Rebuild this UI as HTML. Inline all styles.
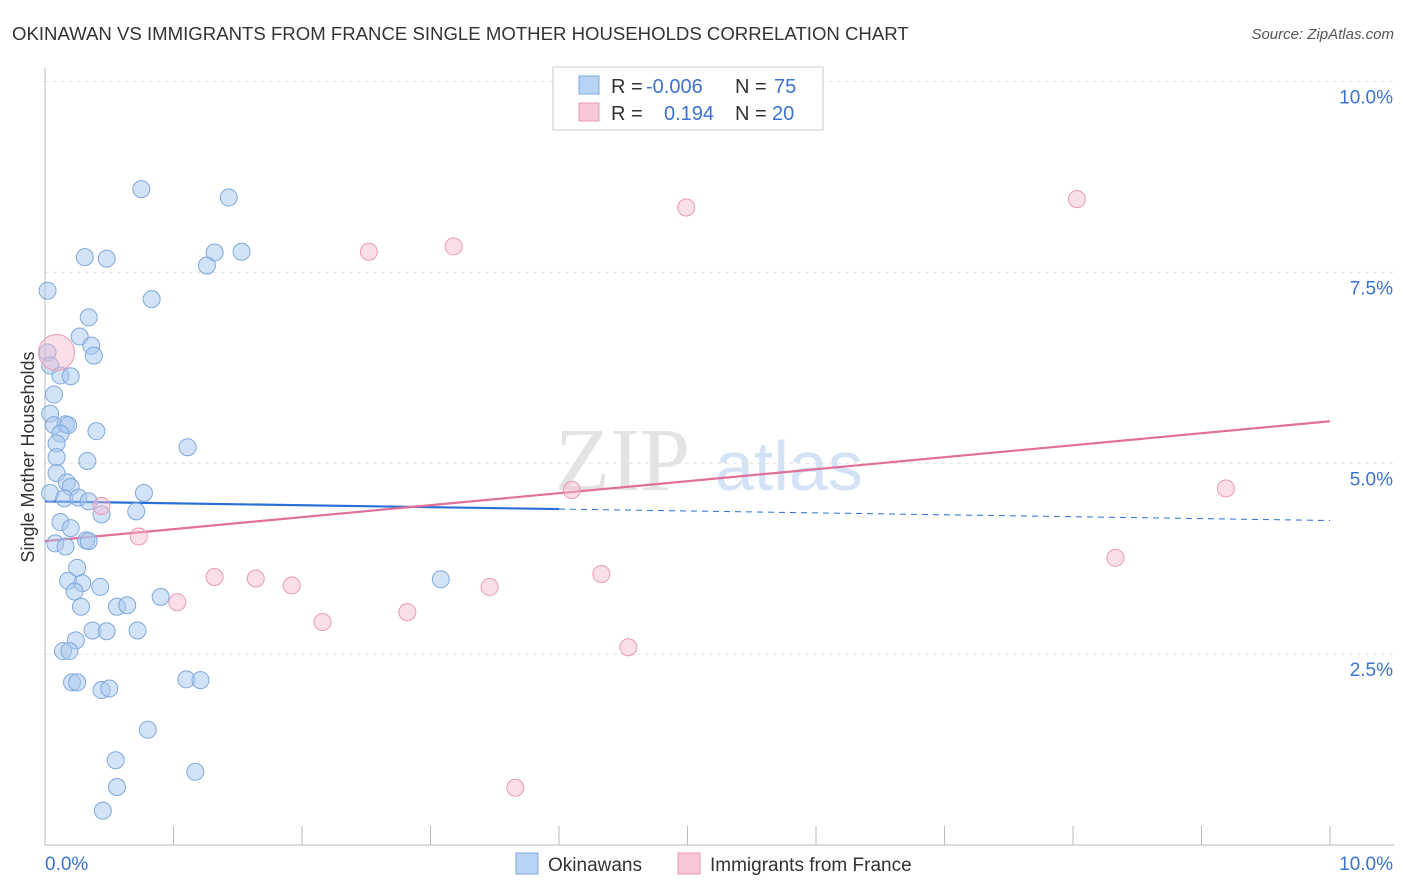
<!DOCTYPE html>
<html><head><meta charset="utf-8"><style>
body{margin:0;background:#fff;font-family:"Liberation Sans",sans-serif}
svg{display:block}
</style></head><body>
<svg id="chart" width="1406" height="892" xmlns="http://www.w3.org/2000/svg">
<text x="12" y="40" font-size="18.6" fill="#333">OKINAWAN VS IMMIGRANTS FROM FRANCE SINGLE MOTHER HOUSEHOLDS CORRELATION CHART</text>
<text x="1394" y="39" font-size="15" fill="#555" font-style="italic" text-anchor="end">Source: ZipAtlas.com</text>
<text x="34" y="457" font-size="18" fill="#333" text-anchor="middle" transform="rotate(-90 34 457)">Single Mother Households</text>
<g><text x="555" y="490" font-size="90" fill="#ddd" font-family="Liberation Serif,serif" opacity="0.8">ZIP</text><text x="715" y="490" font-size="70" fill="#c9dcf2" opacity="0.8">atlas</text></g>
<g id="grid"></g><g id="axes"></g><g id="trend"></g><g id="pts"></g>
<g>
<rect x="553" y="67" width="270" height="63" fill="#fff" stroke="#ccc"/>
<rect x="579" y="76" width="20" height="18" fill="#b9d3f5" stroke="#7fa8dc"/>
<rect x="579" y="103" width="20" height="18" fill="#f9c6d5" stroke="#eb9ab4"/>
<text y="93" font-size="20" fill="#333"><tspan x="611">R =</tspan><tspan x="646" fill="#3a73d0">-0.006</tspan><tspan x="735">N =</tspan><tspan x="774" fill="#3a73d0">75</tspan></text>
<text y="120" font-size="20" fill="#333"><tspan x="611">R =</tspan><tspan x="664" fill="#3a73d0">0.194</tspan><tspan x="735">N =</tspan><tspan x="772" fill="#3a73d0">20</tspan></text>
</g>
<g>
<rect x="516" y="853" width="22" height="21" fill="#b9d3f5" stroke="#7fa8dc"/>
<text x="548" y="871" font-size="19" fill="#333">Okinawans</text>
<rect x="678" y="853" width="22" height="21" fill="#f9c6d5" stroke="#eb9ab4"/>
<text x="710" y="871" font-size="19" fill="#333">Immigrants from France</text>
</g>
</svg>
<script>
const blueX=[.75,1.43,.31,.48,1.32,1.53,1.26,.02,.83,.34,.27,.36,.38,.02,.04,.12,.2,.07,.04,.07,.16,.18,.12,.4,.09,1.11,.09,.33,.09,.17,.2,.04,.15,.26,.34,.77,.44,.71,.12,.2,.32,.34,.08,.16,.25,.18,.29,.43,.23,.9,.28,.56,.64,.37,.48,.72,.24,.14,.19,.21,.25,.44,.5,1.1,1.21,.8,.55,1.17,.56,.45,3.08];
const blueY=[8.59,8.48,7.70,7.68,7.76,7.77,7.59,7.26,7.15,6.91,6.66,6.54,6.41,6.45,6.28,6.15,6.14,5.90,5.65,5.50,5.51,5.50,5.39,5.42,5.26,5.21,5.08,5.03,4.87,4.75,4.69,4.61,4.54,4.55,4.50,4.61,4.33,4.37,4.23,4.15,3.99,3.98,3.95,3.91,3.63,3.46,3.43,3.38,3.32,3.25,3.12,3.12,3.14,2.81,2.80,2.81,2.68,2.54,2.54,2.13,2.13,2.03,2.05,2.17,2.16,1.51,1.11,.96,.76,.45,3.48];
const pinkX=[.09,4.99,8.03,2.52,3.18,4.10,9.19,.44,.73,1.32,1.64,1.92,1.03,2.16,2.82,3.46,4.33,4.54,3.66,8.33];
const pinkY=[6.45,8.35,8.46,7.77,7.84,4.65,4.67,4.44,4.04,3.51,3.49,3.40,3.18,2.92,3.05,3.38,3.55,2.59,.75,3.76];
const yTicks=[2.5,5.0,7.5,10.0];
const yTickLabels=["2.5%","5.0%","7.5%","10.0%"];
const blueTrend=[4.50,4.25];const pinkTrend=[3.98,5.55];
const X=v=>45+v*128.5, Y=v=>845-v*76.35;
const NS="http://www.w3.org/2000/svg";
function mk(p,t,a){const e=document.createElementNS(NS,t);for(const k in a)e.setAttribute(k,a[k]);p.appendChild(e);return e;}
const g=document.getElementById('grid'),ax=document.getElementById('axes'),tr=document.getElementById('trend'),pts=document.getElementById('pts');
yTicks.forEach((t,i)=>{const l=mk(g,'line',{x1:45,x2:1394,y1:Y(t),y2:Y(t),stroke:'#e2e2e2','stroke-dasharray':'4,4'});


const tx=mk(ax,'text',{x:1393,y:Y(t)+22,'font-size':19,fill:'#3a73d0','text-anchor':'end'});tx.textContent=yTickLabels[i];

});
mk(ax,'line',{x1:45,x2:45,y1:68,y2:845,stroke:'#bbb'});
mk(ax,'line',{x1:45,x2:1394,y1:845,y2:845,stroke:'#bbb'});
for(let i=1;i<=10;i++){const t=mk(ax,'line',{x1:X(i),x2:X(i),y1:826,y2:845,stroke:'#bbb'});

}
const x0=mk(ax,'text',{x:45,y:870,'font-size':19,fill:'#3a73d0'});x0.textContent="0.0%";


const x1=mk(ax,'text',{x:1393,y:870,'font-size':19,fill:'#3a73d0','text-anchor':'end'});x1.textContent="10.0%";


blueX.forEach((v,i)=>{const c=mk(pts,'circle',{cx:X(v),cy:Y(blueY[i]),r:8.5,fill:'rgba(168,200,240,0.5)',stroke:'#7fa8dc','stroke-width':1});

});
pinkX.forEach((v,i)=>{const c=mk(pts,'circle',{cx:X(v),cy:Y(pinkY[i]),r:i==0?18:8.5,fill:'rgba(245,184,203,0.45)',stroke:'#eb9ab4','stroke-width':1});

});
const bAt=v=>blueTrend[0]+(blueTrend[1]-blueTrend[0])*v/10;
const b1=mk(tr,'line',{x1:X(0),y1:Y(bAt(0)),x2:X(4),y2:Y(bAt(4)),stroke:'#2a6fd6','stroke-width':2.2});


const b2=mk(tr,'line',{x1:X(4),y1:Y(bAt(4)),x2:X(10),y2:Y(bAt(10)),stroke:'#2a6fd6','stroke-width':1,'stroke-dasharray':'6,5'});


const p1=mk(tr,'line',{x1:X(0),y1:Y(pinkTrend[0]),x2:X(10),y2:Y(pinkTrend[1]),stroke:'#e0709a','stroke-width':2.2});


</script>
</body></html>
